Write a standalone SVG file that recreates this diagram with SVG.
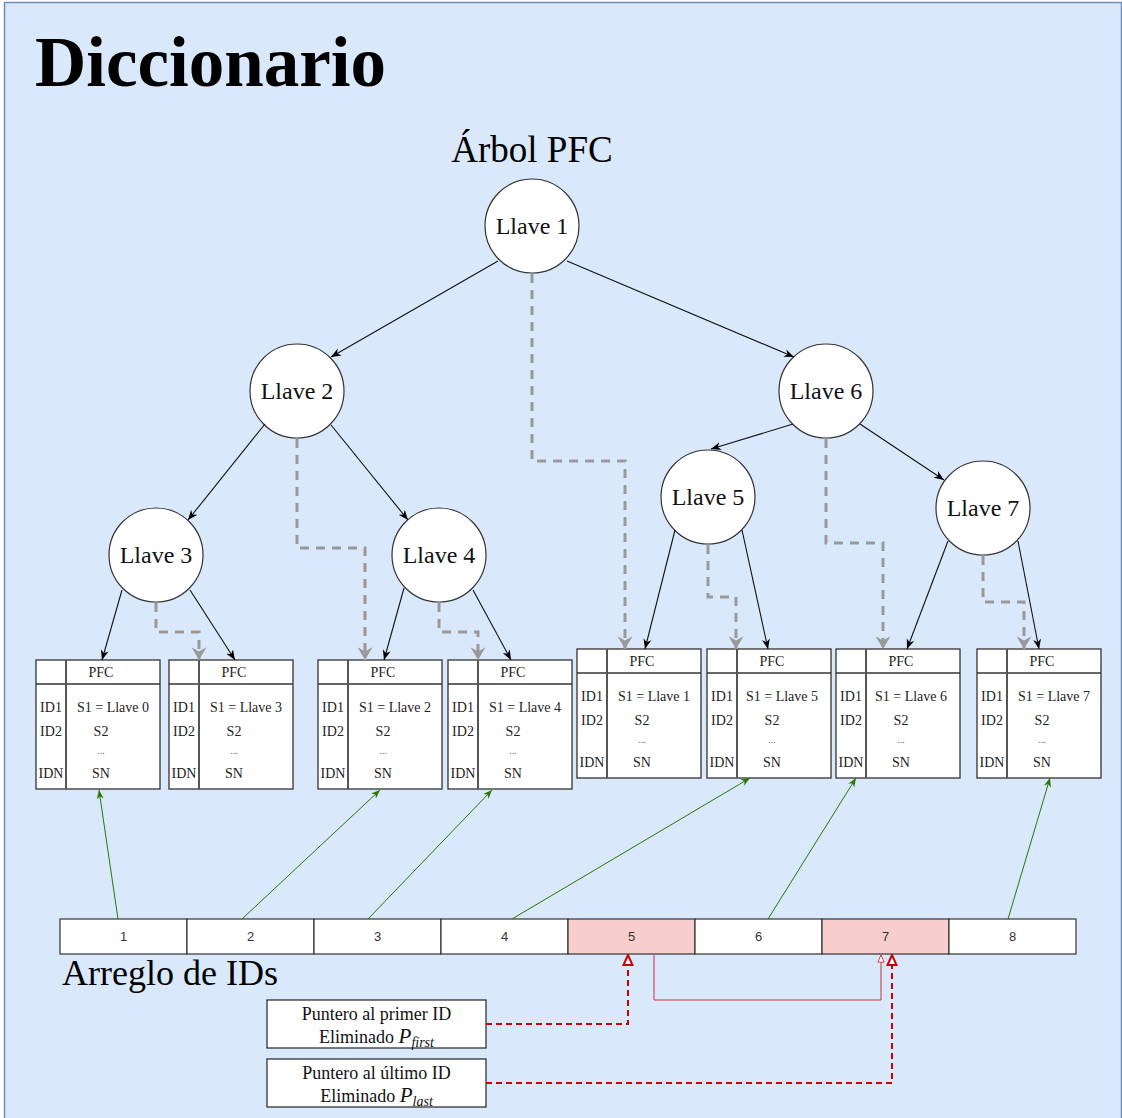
<svg xmlns="http://www.w3.org/2000/svg" width="1122" height="1118" viewBox="0 0 1122 1118">
<style>
.serif{font-family:"Liberation Serif","Times New Roman",serif;fill:#000}
.node circle{fill:#fff;stroke:#333;stroke-width:1.2}
.node text{font-family:"Liberation Serif",serif;font-size:24px;text-anchor:middle;fill:#111}
.tbl rect{fill:#fff;stroke:#333;stroke-width:1.3}
.tbl line{stroke:#333;stroke-width:1.3}
.tbl line.div{stroke:#555;stroke-width:2}
.tbl text{font-family:"Liberation Serif",serif;font-size:14px;fill:#222}
.tbl .c{text-anchor:middle}
.tbl .dots{font-size:10px;fill:#666}
.cell rect{stroke:#333;stroke-width:1.2}
.cell text{font-family:"Liberation Sans",Arial,sans-serif;font-size:13px;fill:#333;text-anchor:middle}
.edge{fill:none;stroke:#111;stroke-width:1.1;marker-end:url(#ab)}
.ptr{fill:none;stroke:#999;stroke-width:3;stroke-dasharray:9 7;marker-end:url(#ag)}
.grn{fill:none;stroke:#2d7600;stroke-width:1;marker-end:url(#agr)}
.rd{fill:none;stroke:#c00;stroke-width:2;stroke-dasharray:6 4;marker-end:url(#ar)}
.rs{fill:none;stroke:#c33;stroke-width:1;marker-end:url(#ars)}
.box rect{fill:#fff;stroke:#222;stroke-width:1.2}
.box text{font-family:"Liberation Serif",serif;font-size:18px;text-anchor:middle;fill:#111}
</style>
<defs>
<marker id="ab" viewBox="0 0 10 10" refX="10" refY="5" markerWidth="10" markerHeight="10" markerUnits="userSpaceOnUse" orient="auto"><path d="M0,1 L10,5 L0,9 L3,5 z" fill="#000"/></marker>
<marker id="ag" viewBox="0 0 12 14" refX="12" refY="7" markerWidth="13" markerHeight="15" markerUnits="userSpaceOnUse" orient="auto"><path d="M0,0 L12,7 L0,14 L4,7 z" fill="#999"/></marker>
<marker id="agr" viewBox="0 0 10 10" refX="10" refY="5" markerWidth="9" markerHeight="9" markerUnits="userSpaceOnUse" orient="auto"><path d="M0,1 L10,5 L0,9 L3,5 z" fill="#2d7600"/></marker>
<marker id="ar" viewBox="0 0 12 12" refX="11" refY="6" markerWidth="12" markerHeight="12" markerUnits="userSpaceOnUse" orient="auto"><path d="M1,1.5 L11,6 L1,10.5 z" fill="#fff" stroke="#c00" stroke-width="2" stroke-dasharray="none"/></marker>
<marker id="ars" viewBox="0 0 10 10" refX="9" refY="5" markerWidth="9" markerHeight="9" markerUnits="userSpaceOnUse" orient="auto"><path d="M1,1.5 L9,5 L1,8.5 z" fill="#fff" stroke="#c33" stroke-width="1"/></marker>
</defs>

<rect x="4.5" y="2.5" width="1117" height="1125" fill="#dae8fc" stroke="#6c8ebf" stroke-width="1.5"/>

<text class="serif" x="35" y="86" font-size="71" font-weight="bold">Diccionario</text>
<text class="serif" x="532" y="162" font-size="37" text-anchor="middle">Árbol PFC</text>
<text class="serif" x="62" y="985" font-size="36">Arreglo de IDs</text>

<g id="llave1" class="node"><circle cx="532" cy="226" r="47"/><text x="532" y="234">Llave 1</text></g>
<g id="llave2" class="node"><circle cx="297" cy="391" r="47"/><text x="297" y="399">Llave 2</text></g>
<g id="llave6" class="node"><circle cx="826" cy="391" r="47"/><text x="826" y="399">Llave 6</text></g>
<g id="llave3" class="node"><circle cx="156" cy="555" r="47"/><text x="156" y="563">Llave 3</text></g>
<g id="llave4" class="node"><circle cx="439" cy="555" r="47"/><text x="439" y="563">Llave 4</text></g>
<g id="llave5" class="node"><circle cx="708" cy="497" r="47"/><text x="708" y="505">Llave 5</text></g>
<g id="llave7" class="node"><circle cx="983" cy="508" r="47"/><text x="983" y="516">Llave 7</text></g>

<g id="pfc0" class="tbl" transform="translate(36,660)">
<rect x="0" y="0" width="124" height="129"/><line x1="0" y1="24" x2="124" y2="24"/><line class="div" x1="30" y1="0" x2="30" y2="129"/>
<text class="c" x="65" y="17">PFC</text><text class="c" x="15" y="52">ID1</text><text class="c" x="15" y="76">ID2</text><text class="c" x="15" y="118">IDN</text>
<text class="c" x="77" y="52">S1 = Llave 0</text><text class="c" x="65" y="76">S2</text><text class="c dots" x="65" y="94">...</text><text class="c" x="65" y="118">SN</text></g>
<g id="pfc3" class="tbl" transform="translate(169,660)">
<rect x="0" y="0" width="124" height="129"/><line x1="0" y1="24" x2="124" y2="24"/><line class="div" x1="30" y1="0" x2="30" y2="129"/>
<text class="c" x="65" y="17">PFC</text><text class="c" x="15" y="52">ID1</text><text class="c" x="15" y="76">ID2</text><text class="c" x="15" y="118">IDN</text>
<text class="c" x="77" y="52">S1 = Llave 3</text><text class="c" x="65" y="76">S2</text><text class="c dots" x="65" y="94">...</text><text class="c" x="65" y="118">SN</text></g>
<g id="pfc2" class="tbl" transform="translate(318,660)">
<rect x="0" y="0" width="124" height="129"/><line x1="0" y1="24" x2="124" y2="24"/><line class="div" x1="30" y1="0" x2="30" y2="129"/>
<text class="c" x="65" y="17">PFC</text><text class="c" x="15" y="52">ID1</text><text class="c" x="15" y="76">ID2</text><text class="c" x="15" y="118">IDN</text>
<text class="c" x="77" y="52">S1 = Llave 2</text><text class="c" x="65" y="76">S2</text><text class="c dots" x="65" y="94">...</text><text class="c" x="65" y="118">SN</text></g>
<g id="pfc4" class="tbl" transform="translate(448,660)">
<rect x="0" y="0" width="124" height="129"/><line x1="0" y1="24" x2="124" y2="24"/><line class="div" x1="30" y1="0" x2="30" y2="129"/>
<text class="c" x="65" y="17">PFC</text><text class="c" x="15" y="52">ID1</text><text class="c" x="15" y="76">ID2</text><text class="c" x="15" y="118">IDN</text>
<text class="c" x="77" y="52">S1 = Llave 4</text><text class="c" x="65" y="76">S2</text><text class="c dots" x="65" y="94">...</text><text class="c" x="65" y="118">SN</text></g>
<g id="pfc1" class="tbl" transform="translate(577,649)">
<rect x="0" y="0" width="124" height="129"/><line x1="0" y1="24" x2="124" y2="24"/><line class="div" x1="30" y1="0" x2="30" y2="129"/>
<text class="c" x="65" y="17">PFC</text><text class="c" x="15" y="52">ID1</text><text class="c" x="15" y="76">ID2</text><text class="c" x="15" y="118">IDN</text>
<text class="c" x="77" y="52">S1 = Llave 1</text><text class="c" x="65" y="76">S2</text><text class="c dots" x="65" y="94">...</text><text class="c" x="65" y="118">SN</text></g>
<g id="pfc5" class="tbl" transform="translate(707,649)">
<rect x="0" y="0" width="124" height="129"/><line x1="0" y1="24" x2="124" y2="24"/><line class="div" x1="30" y1="0" x2="30" y2="129"/>
<text class="c" x="65" y="17">PFC</text><text class="c" x="15" y="52">ID1</text><text class="c" x="15" y="76">ID2</text><text class="c" x="15" y="118">IDN</text>
<text class="c" x="75" y="52">S1 = Llave 5</text><text class="c" x="65" y="76">S2</text><text class="c dots" x="65" y="94">...</text><text class="c" x="65" y="118">SN</text></g>
<g id="pfc6" class="tbl" transform="translate(836,649)">
<rect x="0" y="0" width="124" height="129"/><line x1="0" y1="24" x2="124" y2="24"/><line class="div" x1="30" y1="0" x2="30" y2="129"/>
<text class="c" x="65" y="17">PFC</text><text class="c" x="15" y="52">ID1</text><text class="c" x="15" y="76">ID2</text><text class="c" x="15" y="118">IDN</text>
<text class="c" x="75" y="52">S1 = Llave 6</text><text class="c" x="65" y="76">S2</text><text class="c dots" x="65" y="94">...</text><text class="c" x="65" y="118">SN</text></g>
<g id="pfc7" class="tbl" transform="translate(977,649)">
<rect x="0" y="0" width="124" height="129"/><line x1="0" y1="24" x2="124" y2="24"/><line class="div" x1="30" y1="0" x2="30" y2="129"/>
<text class="c" x="65" y="17">PFC</text><text class="c" x="15" y="52">ID1</text><text class="c" x="15" y="76">ID2</text><text class="c" x="15" y="118">IDN</text>
<text class="c" x="77" y="52">S1 = Llave 7</text><text class="c" x="65" y="76">S2</text><text class="c dots" x="65" y="94">...</text><text class="c" x="65" y="118">SN</text></g>

<g id="ids" class="cell">
<g id="id1"><rect x="60" y="919" width="127" height="35" fill="#fff"/><text x="123.5" y="941">1</text></g>
<g id="id2"><rect x="187" y="919" width="127" height="35" fill="#fff"/><text x="250.5" y="941">2</text></g>
<g id="id3"><rect x="314" y="919" width="127" height="35" fill="#fff"/><text x="377.5" y="941">3</text></g>
<g id="id4"><rect x="441" y="919" width="127" height="35" fill="#fff"/><text x="504.5" y="941">4</text></g>
<g id="id5"><rect x="568" y="919" width="127" height="35" fill="#f8cecc" stroke="#b3b3b3"/><text x="631.5" y="941">5</text></g>
<g id="id6"><rect x="695" y="919" width="127" height="35" fill="#fff"/><text x="758.5" y="941">6</text></g>
<g id="id7"><rect x="822" y="919" width="127" height="35" fill="#f8cecc" stroke="#b3b3b3"/><text x="885.5" y="941">7</text></g>
<g id="id8"><rect x="949" y="919" width="127" height="35" fill="#fff"/><text x="1012.5" y="941">8</text></g>
</g>

<g id="pfirst" class="box"><rect x="267" y="1000" width="219" height="48"/>
<text x="376.5" y="1020">Puntero al primer ID</text>
<text x="376.5" y="1043">Eliminado <tspan font-style="italic" font-size="21">P</tspan><tspan font-style="italic" font-size="14" dy="4">first</tspan></text></g>
<g id="plast" class="box"><rect x="267" y="1059" width="219" height="48"/>
<text x="376.5" y="1079">Puntero al último ID</text>
<text x="376.5" y="1102">Eliminado <tspan font-style="italic" font-size="21">P</tspan><tspan font-style="italic" font-size="14" dy="4">last</tspan></text></g>

<g id="connectors">
<path class="edge" d="M498,261 L331,357"/>
<path class="edge" d="M567,261 L794,357"/>
<path class="edge" d="M265,424 L188,520"/>
<path class="edge" d="M331,425 L408,520"/>
<path class="edge" d="M793,424 L711,449"/>
<path class="edge" d="M860,424 L944,480"/>
<path class="edge" d="M122,590 L102,660"/>
<path class="edge" d="M190,590 L235,660"/>
<path class="edge" d="M404,588 L384,660"/>
<path class="edge" d="M473,590 L511,660"/>
<path class="edge" d="M675,530 L645,649"/>
<path class="edge" d="M742,530 L768,649"/>
<path class="edge" d="M948,541 L907,649"/>
<path class="edge" d="M1018,541 L1039,649"/>

<path class="ptr" d="M532,274 V461 H625 V649"/>
<path class="ptr" d="M297,439 V548 H365 V660"/>
<path class="ptr" d="M156,603 V632 H199 V660"/>
<path class="ptr" d="M439,603 V632 H478 V660"/>
<path class="ptr" d="M708,545 V597 H736 V649"/>
<path class="ptr" d="M826,439 V543 H883 V649"/>
<path class="ptr" d="M983,556 V602 H1024 V649"/>

<path class="grn" d="M118,919 L99,790"/>
<path class="grn" d="M242,919 L380,790"/>
<path class="grn" d="M368,919 L492,790"/>
<path class="grn" d="M512,919 L750,778"/>
<path class="grn" d="M768,919 L856,778"/>
<path class="grn" d="M1008,919 L1050,778"/>

<path class="rd" d="M486,1024 H628 V955"/>
<path class="rd" d="M486,1083 H892 V955"/>
<path class="rs" d="M654,955 V1000 H881 V955"/>
</g>
</svg>
